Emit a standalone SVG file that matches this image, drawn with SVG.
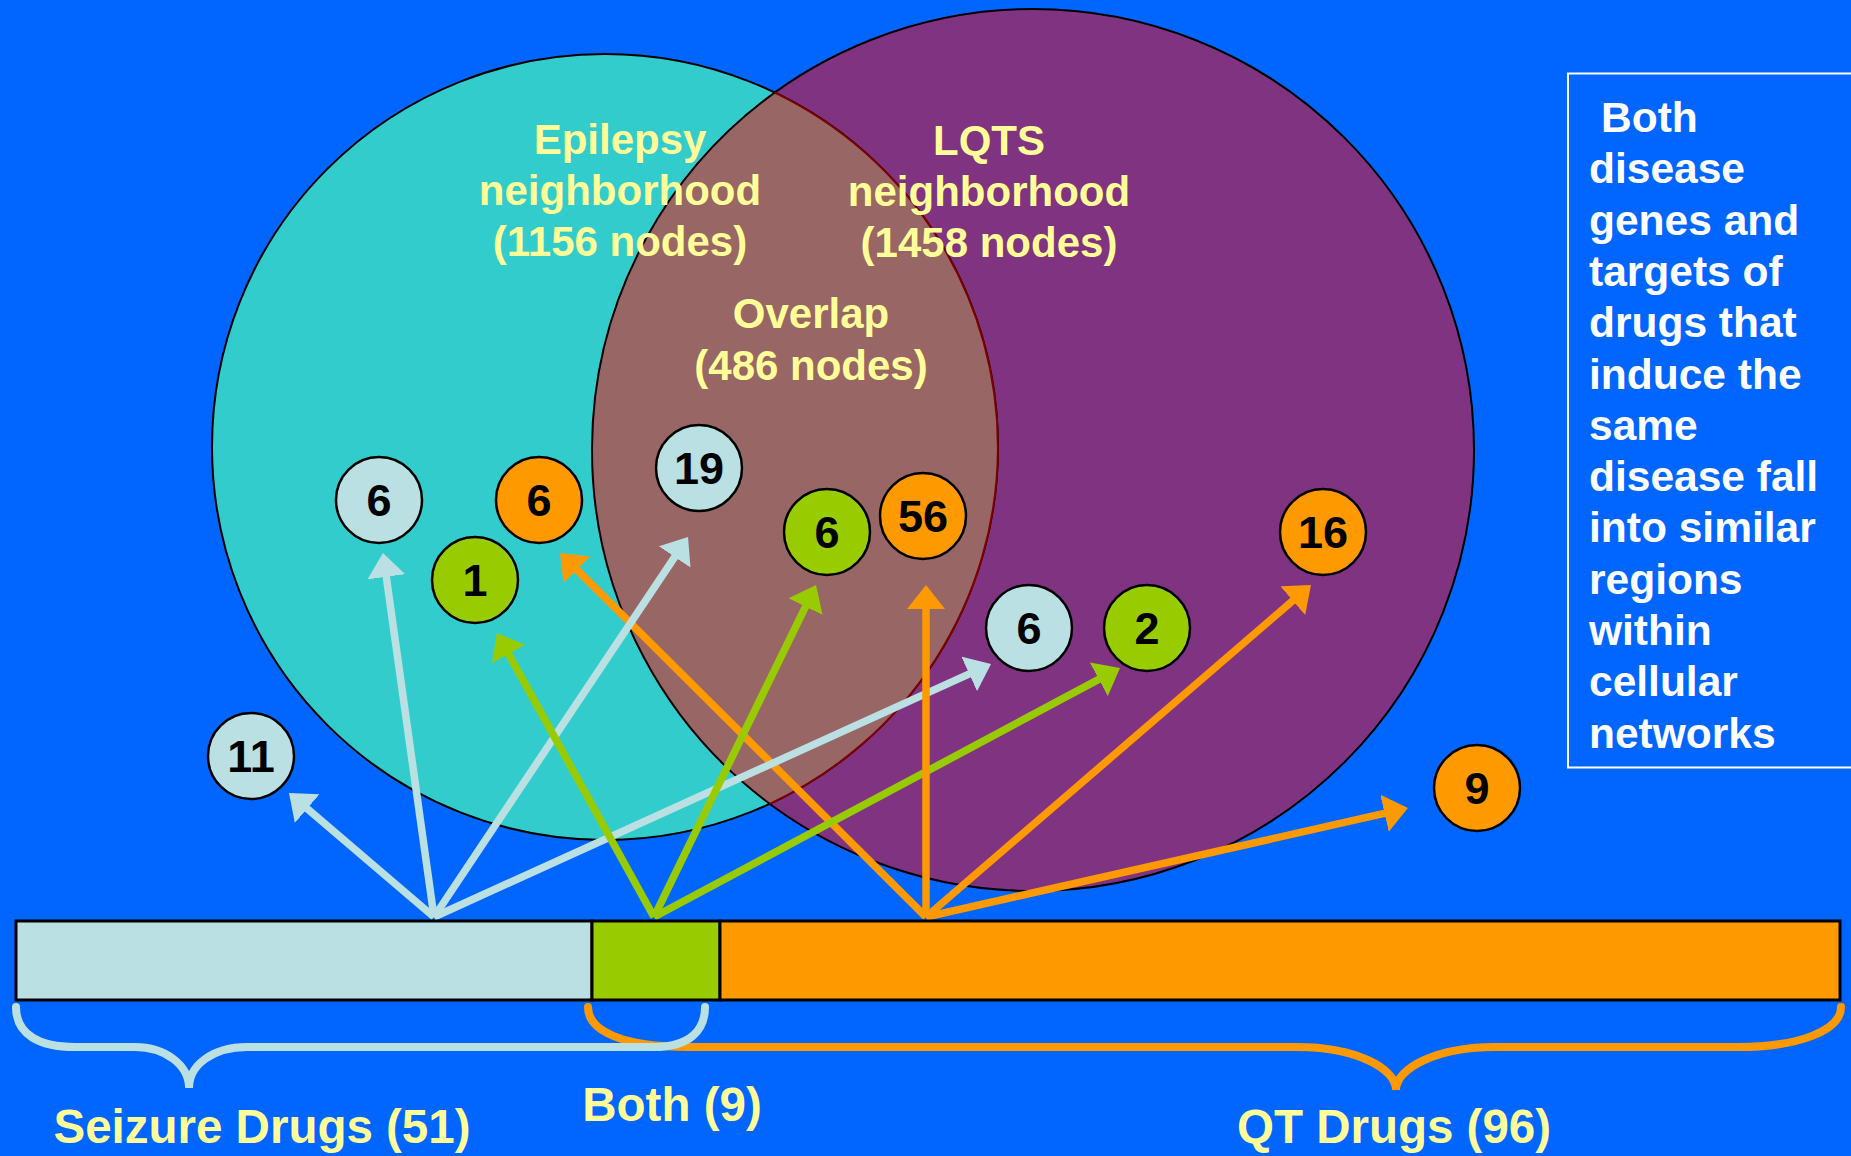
<svg xmlns="http://www.w3.org/2000/svg" width="1851" height="1156" viewBox="0 0 1851 1156">
<style>
.lbl{font-family:"Liberation Sans",Arial,sans-serif;font-weight:bold;fill:#FFFF99;text-anchor:middle}
.num{font-family:"Liberation Sans",Arial,sans-serif;font-weight:bold;font-size:45px;fill:#000;text-anchor:middle}
.node{stroke:#000;stroke-width:2.5}
.blue{fill:#BBE0E3}.green{fill:#99CC00}.orange{fill:#FF9900}
.a{fill:none;stroke-width:7.5}
.ab{stroke:#BBE0E3}.ag{stroke:#99CC00}.ao{stroke:#FF9900}
.note{font-family:"Liberation Sans",Arial,sans-serif;font-weight:bold;font-size:42.5px;fill:#fff}
</style>
<defs>
<marker id="hb" markerUnits="userSpaceOnUse" markerWidth="24" markerHeight="38" viewBox="0 0 24 38" refX="2" refY="19" orient="auto"><path d="M0,0 L24,19 L0,38 z" fill="#BBE0E3"/></marker>
<marker id="hg" markerUnits="userSpaceOnUse" markerWidth="24" markerHeight="38" viewBox="0 0 24 38" refX="2" refY="19" orient="auto"><path d="M0,0 L24,19 L0,38 z" fill="#99CC00"/></marker>
<marker id="ho" markerUnits="userSpaceOnUse" markerWidth="24" markerHeight="38" viewBox="0 0 24 38" refX="2" refY="19" orient="auto"><path d="M0,0 L24,19 L0,38 z" fill="#FF9900"/></marker>
</defs>
<rect width="1851" height="1156" fill="#0066FF"/>
<g id="venn">
<circle id="lqts" cx="1033" cy="450" r="441" fill="#803380" stroke="#000" stroke-width="2"/>
<circle id="epilepsy" cx="605" cy="447" r="393" fill="#33CCCC" stroke="#000" stroke-width="2"/>
<path id="overlap" d="M774.7,92.6 A441,441 0 0 0 769.7,803.8 A393,393 0 0 0 774.7,92.6 z" fill="#996666"/>
<path d="M774.7,92.6 A441,441 0 0 0 769.7,803.8" fill="none" stroke="#000" stroke-width="2"/>
<path d="M769.7,803.8 A393,393 0 0 0 774.7,92.6" fill="none" stroke="#800000" stroke-width="2"/>
<text class="lbl" font-size="42" x="620" y="154">Epilepsy</text>
<text class="lbl" font-size="42" x="620" y="205">neighborhood</text>
<text class="lbl" font-size="42" x="620" y="256">(1156 nodes)</text>
<text class="lbl" font-size="42" x="989" y="155">LQTS</text>
<text class="lbl" font-size="42" x="989" y="206">neighborhood</text>
<text class="lbl" font-size="42" x="989" y="257">(1458 nodes)</text>
<text class="lbl" font-size="42" x="811" y="328">Overlap</text>
<text class="lbl" font-size="42" x="811" y="380">(486 nodes)</text>
</g>
<g id="nodes">
<g id="n-b6a"><circle class="node blue" cx="379" cy="500" r="43"/><text class="num" x="379" y="516">6</text></g>
<g id="n-o6"><circle class="node orange" cx="539" cy="500" r="43"/><text class="num" x="539" y="516">6</text></g>
<g id="n-g1"><circle class="node green" cx="475" cy="580" r="43"/><text class="num" x="475" y="596">1</text></g>
<g id="n-b19"><circle class="node blue" cx="699" cy="468" r="43"/><text class="num" x="699" y="484">19</text></g>
<g id="n-b11"><circle class="node blue" cx="251" cy="756" r="43"/><text class="num" x="251" y="772">11</text></g>
<g id="n-g6"><circle class="node green" cx="827" cy="532" r="43"/><text class="num" x="827" y="548">6</text></g>
<g id="n-o56"><circle class="node orange" cx="923" cy="516" r="43"/><text class="num" x="923" y="532">56</text></g>
<g id="n-b6b"><circle class="node blue" cx="1029" cy="628" r="43"/><text class="num" x="1029" y="644">6</text></g>
<g id="n-g2"><circle class="node green" cx="1147" cy="628" r="43"/><text class="num" x="1147" y="644">2</text></g>
<g id="n-o16"><circle class="node orange" cx="1323" cy="532" r="43"/><text class="num" x="1323" y="548">16</text></g>
<g id="n-o9"><circle class="node orange" cx="1477" cy="788" r="43"/><text class="num" x="1477" y="804">9</text></g>
</g>
<g id="connectors">
<line class="a ao" x1="926" y1="917" x2="575.6" y2="568.5" marker-end="url(#ho)"/>
<line class="a ab" x1="434" y1="917" x2="305.7" y2="807.3" marker-end="url(#hb)"/>
<line class="a ab" x1="434" y1="917" x2="386" y2="574.8" marker-end="url(#hb)"/>
<line class="a ab" x1="434" y1="917" x2="675.8" y2="555.3" marker-end="url(#hb)"/>
<line class="a ab" x1="434" y1="917" x2="971" y2="673.1" marker-end="url(#hb)"/>
<line class="a ag" x1="654" y1="917" x2="507.6" y2="652.3" marker-end="url(#hg)"/>
<line class="a ag" x1="654" y1="917" x2="806.4" y2="604.8" marker-end="url(#hg)"/>
<line class="a ag" x1="654" y1="917" x2="1100.6" y2="678.4" marker-end="url(#hg)"/>
<line class="a ao" x1="926" y1="917" x2="926" y2="607" marker-end="url(#ho)"/>
<line class="a ao" x1="926" y1="917" x2="1294.3" y2="599.4" marker-end="url(#ho)"/>
<line class="a ao" x1="926" y1="917" x2="1386.5" y2="812.9" marker-end="url(#ho)"/>
</g>
<g id="bar">
<rect x="16" y="921" width="576" height="79" fill="#BBE0E3" stroke="#000" stroke-width="3"/>
<rect x="592" y="921" width="128" height="79" fill="#99CC00" stroke="#000" stroke-width="3"/>
<rect x="720" y="921" width="1120" height="79" fill="#FF9900" stroke="#000" stroke-width="3"/>
</g>
<g id="braces" fill="none" stroke-width="8" stroke-linecap="round">
<path d="M588,1007 C588,1030 620,1047 689,1047 L1297,1047 C1355,1047 1396,1068 1396,1090 C1396,1068 1437,1047 1495,1047 L1738,1047 C1800,1047 1841,1030 1841,1007" stroke="#FF9900"/>
<path d="M16,1007 C16,1035 40,1047 75,1047 L135,1047 C165,1047 189,1065 189,1088 C189,1065 213,1047 247,1047 L654,1047 C690,1047 705,1030 705,1007" stroke="#BBE0E3"/>
</g>
<g id="labels">
<text class="lbl" font-size="47.5" x="262" y="1143">Seizure Drugs (51)</text>
<text class="lbl" font-size="47.5" x="672" y="1121">Both (9)</text>
<text class="lbl" font-size="47.5" x="1394" y="1143">QT Drugs (96)</text>
</g>
<g id="note">
<rect x="1568" y="73.5" width="300" height="694" fill="none" stroke="#fff" stroke-width="2"/>
<text class="note" x="1589" y="132"><tspan x="1601" y="132">Both</tspan><tspan x="1589" y="183.3">disease</tspan><tspan x="1589" y="234.6">genes and</tspan><tspan x="1589" y="285.9">targets of</tspan><tspan x="1589" y="337.2">drugs that</tspan><tspan x="1589" y="388.5">induce the</tspan><tspan x="1589" y="439.8">same</tspan><tspan x="1589" y="491.1">disease fall</tspan><tspan x="1589" y="542.4">into similar</tspan><tspan x="1589" y="593.7">regions</tspan><tspan x="1589" y="645">within</tspan><tspan x="1589" y="696.3">cellular</tspan><tspan x="1589" y="747.6">networks</tspan></text>
</g>
</svg>
